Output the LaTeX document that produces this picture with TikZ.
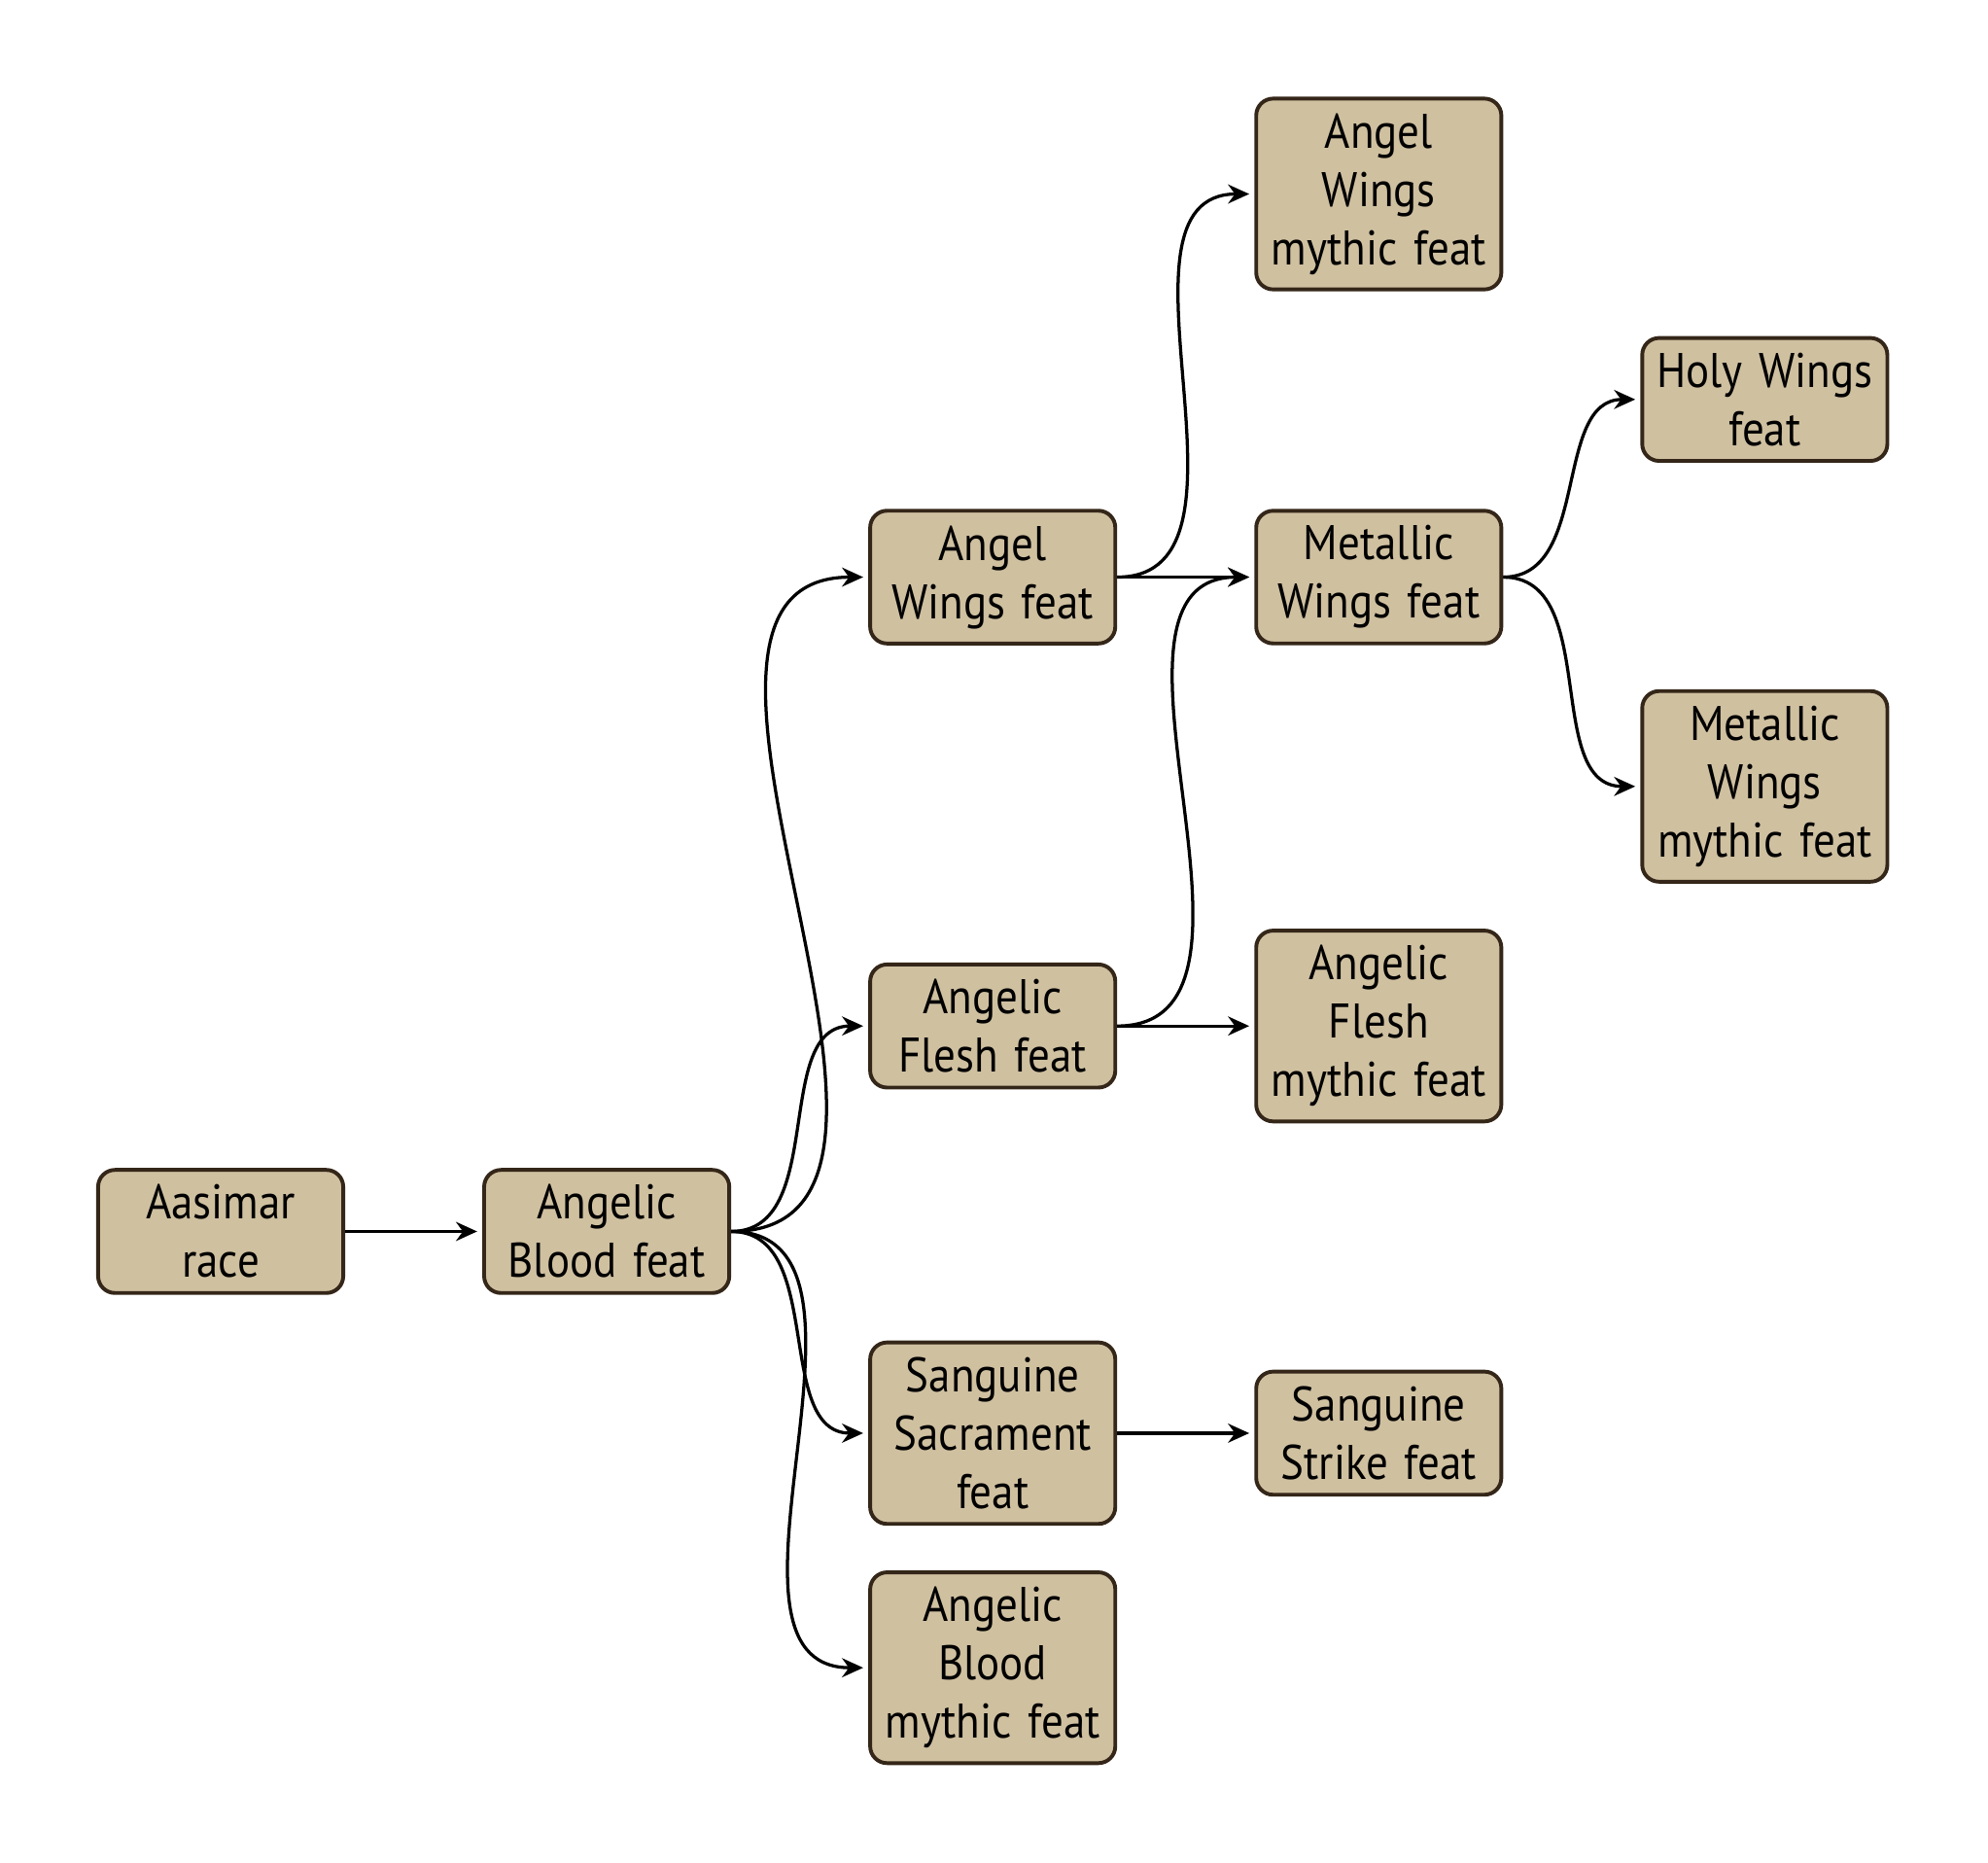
\documentclass[tikz,border=0pt]{standalone}
\usepackage{fontspec}
\setmainfont{PT Sans}[FakeStretch = 0.9, WordSpace = 0.75]
\usetikzlibrary{arrows.meta}

\definecolor{featfill}{RGB}{207,192,160}
\definecolor{featline}{RGB}{52,38,24}

\tikzset{
  feat/.style = {draw = featline, fill = featfill, line width = 0.9pt,
    rounded corners = 4pt, text width = 52pt, align = center,
    inner xsep = 3pt, inner ysep = 3.5pt,
    font = \fontsize{11.5}{13.8}\selectfont},
  link/.style = {-{Stealth[length = 5pt, width = 4.5pt]}, line width = 0.75pt,
    shorten > = 1.2pt},
}

\begin{document}
\begin{tikzpicture}
  \useasboundingbox (-1.835,-5.249) rectangle (14.696,10.238);

  \node[feat] (race) at (0,0) {Aasimar\\race};
  \node[feat] (blood) at (3.21,0) {Angelic\\Blood feat};

  \node[feat] (wings) at (6.42,5.44) {Angel\\Wings feat};
  \node[feat] (flesh) at (6.42,1.708) {Angelic\\Flesh feat};
  \node[feat] (sacrament) at (6.42,-1.677) {Sanguine\\Sacrament\\feat};
  \node[feat] (bloodmyth) at (6.42,-3.627) {Angelic\\Blood\\mythic feat};

  \node[feat] (wingsmyth) at (9.63,8.625) {Angel\\Wings\\mythic feat};
  \node[feat] (metallic) at (9.63,5.44) {Metallic\\Wings feat};
  \node[feat] (fleshmyth) at (9.63,1.708) {Angelic\\Flesh\\mythic feat};
  \node[feat] (strike) at (9.63,-1.677) {Sanguine\\Strike feat};

  \node[feat] (holy) at (12.84,6.917) {Holy Wings\\feat};
  \node[feat] (metallicmyth) at (12.84,3.70) {Metallic\\Wings\\mythic feat};

  \draw[link] (race) -- (blood);
  \draw[link] (blood.east) to[out = 0, in = 180] (wings.west);
  \draw[link] (blood.east) to[out = 0, in = 180] (flesh.west);
  \draw[link] (blood.east) to[out = 0, in = 180] (sacrament.west);
  \draw[link] (blood.east) to[out = 0, in = 180] (bloodmyth.west);
  \draw[link] (wings.east) to[out = 0, in = 180] (wingsmyth.west);
  \draw[link] (wings.east) -- (metallic.west);
  \draw[link] (flesh.east) to[out = 0, in = 180] (metallic.west);
  \draw[link] (flesh.east) -- (fleshmyth.west);
  \draw[link] (sacrament.east) -- (strike.west);
  \draw[link] (metallic.east) to[out = 0, in = 180] (holy.west);
  \draw[link] (metallic.east) to[out = 0, in = 180] (metallicmyth.west);
\end{tikzpicture}
\end{document}
